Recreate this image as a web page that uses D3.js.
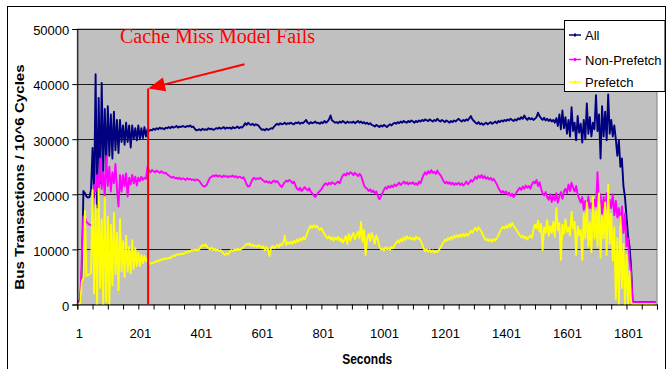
<!DOCTYPE html>
<html>
<head>
<meta charset="utf-8">
<script src="https://cdn.jsdelivr.net/npm/d3@7/dist/d3.min.js"></script>
<style>
  body { margin: 0; background: #fff; }
  svg { display: block; }
</style>
</head>
<body>
<svg id="chart" width="666" height="369"></svg>
<script>
// Bus transactions per 10^6 cycles, sampled every 5 seconds (second 1, 6, 11, ...)
const sampleStep = 5;

const allTx = [
  300, 400, 1200, 5500, 20600, 20200, 19600, 19400, 19500, 20800,
  28400, 19500, 41800, 17600, 37500, 22000, 40200, 24000, 35500, 25500,
  36000, 27000, 34500, 26500, 35000, 28000, 33500, 27500, 33500, 29500,
  32500, 29000, 33000, 29500, 32500, 28500, 32500, 30000, 32000, 29800,
  32500, 30000, 32000, 30200, 32200, 30500, 31800, 31500, 31700, 31600,
  31900, 31700, 32000, 31800, 32100, 31900, 32000, 31800, 32100, 32000,
  32200, 32000, 32300, 32100, 32200, 32400, 32100, 32300, 32200, 32400,
  32300, 32200, 32400, 32300, 32500, 32200, 32300, 31900, 31600, 31700,
  31800, 31600, 31900, 31700, 31800, 31700, 32000, 31800, 31900, 31700,
  31800, 32000, 31900, 32100, 31900, 32000, 32200, 31900, 32100, 32000,
  32100, 31900, 32200, 32000, 32100, 32300, 32000, 32200, 32100, 32400,
  32900, 32600, 33000, 32700, 32600, 32800, 32500, 32700, 32600, 32400,
  32000, 31700, 31800, 31600, 31900, 31700, 31800, 32000, 31900, 32300,
  32600, 32800, 32600, 32900, 32700, 32800, 33000, 32700, 32900, 32800,
  33000, 32800, 32700, 33000, 32900, 33100, 32800, 33000, 32900, 33200,
  33500, 33000, 32800, 33100, 32900, 33000, 33200, 32900, 33000, 32800,
  33100, 32900, 33300, 33000, 33200, 33600, 34300, 33400, 33200, 33000,
  33100, 32900, 33200, 33000, 33300, 33100, 32900, 33200, 33000, 33100,
  33000, 33200, 32900, 33100, 33300, 33000, 33200, 32900, 33100, 32800,
  33000, 32700, 32900, 32600, 32500, 32300, 32600, 32400, 32200, 32500,
  32300, 32600, 32400, 32200, 32500, 32700, 32500, 32800, 33000, 32800,
  33100, 32900, 33200, 33000, 33300, 33100, 33000, 33300, 33100, 33400,
  33200, 33000, 33300, 33100, 33400, 33200, 33500, 33300, 33600, 33400,
  33300, 33600, 33400, 33200, 33500, 33300, 33700, 33400, 33200, 33500,
  33300, 33100, 33400, 33200, 33000, 33300, 33100, 33400, 33200, 33500,
  33700, 33400, 33200, 33500, 33300, 33600, 33400, 33800, 34200, 33600,
  33300, 33000, 32800, 33100, 32700, 32900, 32600, 32800, 33000, 32700,
  32900, 33100, 32800, 33000, 33200, 32900, 33300, 33100, 33400, 33200,
  33500, 33300, 33600, 33400, 33700, 33500, 33300, 33600, 33400, 33800,
  33600, 34000, 33700, 34300, 33800, 33500, 33900, 33600, 33800, 33500,
  33700, 34000, 34800, 34200, 33800, 33500, 33900, 33400, 33700, 33300,
  33600, 33200, 33500, 33000, 33800, 32400, 34500, 31800, 35200, 32000,
  34000, 31000, 33500, 30500, 35800, 31500, 33000, 29800, 34200, 31200,
  32800, 29400, 33500, 30000, 36500, 31000, 34000, 30500, 33000, 31800,
  38000, 31500, 34500, 26500, 36000, 30500, 35000, 29800, 38100, 31000,
  33500, 30500, 32500, 30000, 27000, 29800, 25000, 26500, 21500, 19500,
  16000, 12500, 10500, 6800, 500, 450, 450, 450, 450, 450,
  450, 450, 450, 450, 450, 450, 450, 450, 450, 450
];

const nonPrefetchTx = [
  200, 300, 700, 9000, 16000, 15800, 15000, 14700, 14500, 14400,
  14800, 21700, 20500, 23500, 19800, 26500, 21000, 24000, 19600, 26900,
  21500, 25000, 20500, 24000, 22000, 25500, 21000, 17800, 23500, 20500,
  23500, 21500, 23800, 19600, 23000, 21800, 23500, 22000, 23200, 21600,
  23000, 22400, 23200, 22600, 23000, 22800, 25000, 24300, 24000, 24400,
  24200, 24000, 24300, 24100, 23900, 24200, 24000, 23800, 23900, 23600,
  23400, 23200, 23000, 23200, 22900, 23000, 22800, 23000, 22700, 22900,
  22800, 22600, 22900, 22700, 22800, 22600, 22700, 22500, 22700, 22600,
  22400, 22000, 21600, 21400, 21500, 21800, 22500, 23000, 23200, 23400,
  23300, 23500, 23200, 23400, 23300, 23100, 23400, 23200, 23300, 23100,
  23300, 23200, 23400, 23100, 23300, 23000, 23200, 23100, 22900, 23100,
  22500, 21800, 21400, 21500, 22200, 22800, 23000, 22700, 22900, 22800,
  23000, 22700, 22500, 22200, 22400, 22100, 22300, 22000, 22300, 22500,
  22200, 22400, 22000, 21600, 21300, 21800, 22200, 22500, 22300, 22600,
  22400, 22000, 22300, 21600, 21000, 20800, 21200, 20600, 20900, 21300,
  21000, 20700, 21100, 20500, 20200, 19800, 19500, 19900, 20300, 20600,
  20900, 21400, 21800, 22000, 21700, 22100, 21800, 22200, 22000, 21800,
  22100, 22300, 22000, 22800, 23400, 23700, 23400, 23900, 23600, 24000,
  23800, 23500, 23900, 23600, 23300, 23700, 23400, 22500, 21600, 21200,
  21000, 20600, 20900, 20400, 20700, 20200, 20500, 19700, 19100, 19600,
  20200, 20800, 21300, 21000, 21500, 21200, 21600, 21300, 21800, 21500,
  21800, 22100, 21700, 22000, 22300, 21900, 22200, 21800, 22100, 21900,
  22200, 21800, 22000, 21700, 22300, 22000, 22800, 23500, 24000, 23600,
  24200, 23800, 24400, 23900, 24100, 23700, 24300, 23800, 23500, 23000,
  22400, 22000, 22300, 21900, 22200, 21800, 22100, 21700, 22000, 21800,
  22100, 21700, 22000, 21600, 21900, 22300, 21800, 22100, 22600, 22300,
  22700, 23200, 22800, 23400, 23000, 23500, 22900, 23300, 22800, 23100,
  22700, 23000, 22500, 22800, 22300, 21800, 21200, 20700, 20300, 20600,
  20200, 20500, 19900, 20300, 19700, 20100, 19500, 19900, 20400, 20800,
  21200, 20800, 21400, 21000, 21600, 21200, 21500, 21000, 21800, 22300,
  22000, 22600, 21500, 22200, 21000, 20200, 19800, 20400, 19500, 19000,
  20000, 18600, 19800, 18900, 20200, 18500, 19600, 20400, 19200, 20500,
  21000, 20200, 21800, 20600, 22100, 21200, 20500, 21500, 20000, 19200,
  18500, 19500, 17200, 18800, 16800, 19600, 17500, 18400, 16600, 19000,
  17800, 24000, 18200, 20000, 16500, 19500, 17000, 20200, 15900, 19000,
  17500, 20000, 16200, 18800, 15800, 17500, 14500, 17800, 13000, 16500,
  10500, 12000, 8000, 5700, 400, 400, 400, 400, 400, 400,
  400, 400, 400, 400, 400, 400, 400, 400, 400, 400
];

const prefetchTx = [
  100, 150, 300, 4200, 4800, 17000, 5200, 5300, 5500, 5700,
  20800, 2000, 18000, 0, 21000, 3000, 15500, 0, 19500, 500,
  16000, 0, 14500, 3500, 16600, 5500, 13000, 2600, 15500, 6000,
  11500, 5000, 12500, 6000, 10500, 5700, 11700, 6500, 10200, 7000,
  9500, 7000, 9000, 7500, 8800, 7800, 8500, 7600, 7400, 7500,
  7600, 7700, 7900, 7800, 8100, 8000, 8300, 8200, 8400, 8300,
  8500, 8400, 8700, 8900, 8800, 9100, 9000, 9200, 9100, 9300,
  9200, 9500, 9400, 9700, 9600, 9900, 9800, 10000, 9900, 9800,
  10100, 10400, 10800, 10600, 10900, 10500, 10200, 10000, 10300, 9900,
  10100, 9800, 10000, 9700, 9900, 9500, 9200, 9000, 9300, 9100,
  9600, 9900, 9700, 10000, 9800, 10100, 9900, 10000, 10200, 10400,
  10700, 11000, 10800, 11100, 10600, 10900, 10500, 10700, 10400, 10800,
  10500, 10200, 10600, 9800, 10400, 10000, 8800, 10300, 10600, 10200,
  10500, 10800, 10400, 11000, 10700, 11200, 12500, 10800, 11300, 11000,
  11400, 11000, 11600, 11200, 11800, 11400, 12000, 11600, 12200, 11800,
  12400, 13200, 13800, 14300, 13900, 14400, 14000, 14300, 13800, 13500,
  13900, 13300, 12800, 12300, 12000, 12400, 11800, 12200, 11600, 12100,
  11800, 12300, 11500, 12000, 11200, 11700, 12400, 11000, 12800, 11600,
  12500, 13000, 11800, 12600, 13200, 12000, 15000, 11400, 13500, 9000,
  12000, 12800, 11500, 13000, 12200, 11000, 12500, 11800, 10500, 10000,
  10200, 9800, 10400, 10000, 10300, 9900, 10500, 10200, 10800, 11200,
  11600, 11200, 11900, 11500, 12200, 11700, 12400, 11900, 12200, 11800,
  12100, 11700, 12300, 11900, 12100, 11600, 11000, 10200, 9700, 10000,
  9600, 9900, 9500, 9800, 9400, 9700, 9500, 9900, 10300, 10800,
  11300, 11800, 11500, 12100, 11700, 12300, 11900, 12500, 12100, 12600,
  12200, 12700, 12300, 12800, 12400, 12900, 12500, 12900, 13400, 13000,
  13500, 13900, 13400, 14000, 13600, 13200, 12600, 12000, 11600, 11900,
  11500, 11800, 11400, 11900, 11600, 12000, 12500, 13200, 13700, 14100,
  13800, 14300, 13900, 14600, 14100, 14800, 14300, 13900, 13500, 13000,
  12600, 12200, 12500, 12000, 12300, 11800, 12200, 12500, 12100, 13500,
  14500, 13800, 15200, 13200, 14600, 9900, 14000, 13000, 15300, 12500,
  14200, 13000, 15000, 12300, 17500, 13500, 14800, 8100, 14500, 12800,
  15500, 13200, 14000, 12500, 16800, 13800, 15000, 9000, 14200, 12600,
  13500, 8100, 16500, 12000, 18500, 10500, 15000, 9500, 19500, 12000,
  17000, 10500, 20200, 8500, 16000, 12000, 18500, 9000, 21700, 11000,
  16500, 8000, 14000, 1000, 12000, 0, 16000, 3000, 11000, 0,
  9000, 0, 6000, 500, 0, 50, 50, 50, 50, 50,
  50, 50, 50, 50, 50, 50, 50, 50, 50, 50
];

const seriesNames = ["All", "Non-Prefetch", "Prefetch"];
const seriesColors = ["#000080", "#FF00FF", "#FFFF00"];
const seriesValues = [allTx, nonPrefetchTx, prefetchTx];

const yTickValues = [0, 10000, 20000, 30000, 40000, 50000];
const xTickMarks = d3.range(1, 1902, 50);
const xTickLabels = ["1", "201", "401", "601", "801", "1001", "1201", "1401", "1601", "1801"];

const yTitle = "Bus Transactions / 10^6 Cycles";
const xTitle = "Seconds";

// Annotation: the second where the cache-miss model stops holding
const annotationText = "Cache Miss Model Fails";
const annotationAt = [141, 47450];   // [second, transactions] of text start
const failSecond = 233;
const failMarkTop = 39200;
const arrowTail = [549, 43600];

const seconds = allTx.map((_, i) => 1 + i * sampleStep);

const svg = d3.select("#chart");
const sans = "Arial, 'Liberation Sans', sans-serif";

const plot = { left: 77.3, right: 657, top: 29, bottom: 304.5 };
const x = d3.scaleLinear().domain([1, 1901]).range([plot.left, plot.right]);
const y = d3.scaleLinear().domain([0, 50000]).range([plot.bottom, plot.top]);

// Outer chart frame
svg.append("rect")
  .attr("x", 7.5).attr("y", 6.5)
  .attr("width", 658).attr("height", 420)
  .attr("fill", "#fff").attr("stroke", "#000").attr("stroke-width", 1);

// Plot background
svg.append("rect")
  .attr("x", plot.left).attr("y", plot.top)
  .attr("width", plot.right - plot.left).attr("height", plot.bottom - plot.top)
  .attr("fill", "#C0C0C0").attr("stroke", "#808080").attr("stroke-width", 1);

// Horizontal gridlines
svg.append("g").selectAll("line")
  .data(yTickValues.filter(v => v > 0))
  .join("line")
  .attr("x1", plot.left).attr("x2", plot.right)
  .attr("y1", d => Math.round(y(d)) + 0.5)
  .attr("y2", d => Math.round(y(d)) + 0.5)
  .attr("stroke", "#1a1a1a").attr("stroke-width", 1);

// Series lines
const line = d3.line()
  .x((d, i) => x(seconds[i]))
  .y(d => y(d));

svg.append("g").selectAll("path")
  .data(seriesValues)
  .join("path")
  .attr("d", d => line(d))
  .attr("fill", "none")
  .attr("stroke", (d, i) => seriesColors[i])
  .attr("stroke-width", 1.9)
  .attr("stroke-linejoin", "round");

// Y axis
const yAxis = svg.append("g")
  .attr("transform", `translate(${plot.left},0)`)
  .call(d3.axisLeft(y).tickValues(yTickValues).tickSize(5).tickPadding(3).tickFormat(d3.format("d")));
yAxis.select(".domain").attr("stroke", "#000");
yAxis.selectAll(".tick line").attr("stroke", "#000");
yAxis.selectAll(".tick text")
  .attr("font-family", sans).attr("font-size", 13).attr("fill", "#000")
  .attr("dy", "0.45em");

// X axis
const labelSet = new Set(xTickLabels.map(Number));
const xAxis = svg.append("g")
  .attr("transform", `translate(0,${plot.bottom})`)
  .call(d3.axisBottom(x).tickValues(xTickMarks).tickSize(5).tickPadding(19)
    .tickFormat(d => labelSet.has(d) ? String(d) : ""));
xAxis.select(".domain").attr("stroke", "#000");
xAxis.selectAll(".tick line").attr("stroke", "#000");
xAxis.selectAll(".tick text")
  .attr("font-family", sans).attr("font-size", 13).attr("fill", "#000")
  .attr("dx", 1.5);

// Axis titles
svg.append("text")
  .attr("transform", "translate(24,177) scale(1,1.26) rotate(-90)")
  .attr("text-anchor", "middle")
  .attr("font-family", sans).attr("font-size", 12).attr("font-weight", "bold")
  .text(yTitle);

svg.append("text")
  .attr("transform", `translate(${(plot.left + plot.right) / 2},364) scale(1,1.25)`)
  .attr("text-anchor", "middle")
  .attr("font-family", sans).attr("font-size", 12).attr("font-weight", "bold")
  .text(xTitle);

// Annotation: vertical marker, arrow and caption
const red = "#FF0000";
svg.append("line")
  .attr("x1", x(failSecond)).attr("x2", x(failSecond))
  .attr("y1", y(failMarkTop)).attr("y2", y(0))
  .attr("stroke", red).attr("stroke-width", 2);

const tip = [x(failSecond), y(failMarkTop)];
const tail = [x(arrowTail[0]), y(arrowTail[1])];
const dx = tip[0] - tail[0], dy = tip[1] - tail[1];
const len = Math.hypot(dx, dy);
const ux = dx / len, uy = dy / len;
const headLen = 17, headHalf = 7;
const base = [tip[0] - ux * headLen, tip[1] - uy * headLen];
svg.append("line")
  .attr("x1", tail[0]).attr("y1", tail[1])
  .attr("x2", base[0]).attr("y2", base[1])
  .attr("stroke", red).attr("stroke-width", 2);
svg.append("polygon")
  .attr("points", [
    tip,
    [base[0] - uy * headHalf, base[1] + ux * headHalf],
    [base[0] + uy * headHalf, base[1] - ux * headHalf]
  ].map(p => p.join(",")).join(" "))
  .attr("fill", red);

svg.append("text")
  .attr("x", x(annotationAt[0])).attr("y", y(annotationAt[1]))
  .attr("font-family", "'Times New Roman', 'Liberation Serif', serif")
  .attr("font-size", 20).attr("fill", red)
  .text(annotationText);

// Legend
const legend = svg.append("g");
legend.append("rect")
  .attr("x", 564.5).attr("y", 20.5).attr("width", 100.5).attr("height", 71)
  .attr("fill", "#fff").attr("stroke", "#000").attr("stroke-width", 1);
const legendRows = [40, 64.5, 87];
const items = legend.selectAll("g.item")
  .data(seriesNames)
  .join("g").attr("class", "item")
  .attr("transform", (d, i) => `translate(0,${legendRows[i]})`);
items.append("line")
  .attr("x1", 569).attr("x2", 581).attr("y1", -5).attr("y2", -5)
  .attr("stroke", (d, i) => seriesColors[i]).attr("stroke-width", 1.5);
items.append("rect")
  .attr("x", 574).attr("y", -6.5).attr("width", 2).attr("height", 3)
  .attr("fill", (d, i) => seriesColors[i]);
items.append("text")
  .attr("x", 585).attr("y", 0)
  .attr("font-family", sans).attr("font-size", 13).attr("fill", "#000")
  .text(d => d);
</script>
</body>
</html>
